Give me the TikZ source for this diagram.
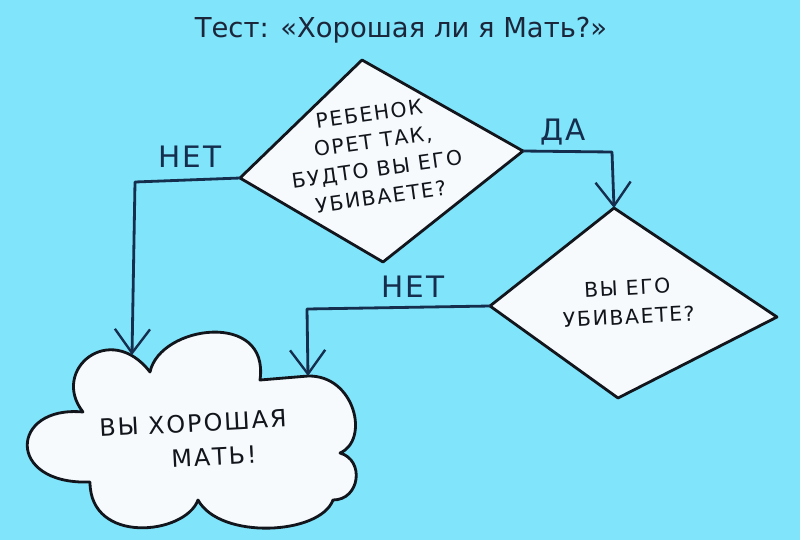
\documentclass[tikz,border=0pt]{standalone}
\usepackage{fontspec}
\setmainfont{DejaVu Sans}
\newfontfamily\handcaps[LetterSpace=8]{DejaVu Sans}
\usetikzlibrary{arrows.meta,positioning,calc}

\definecolor{sky}{RGB}{128,228,250}
\definecolor{ink}{RGB}{22,46,78}
\definecolor{pen}{RGB}{18,22,28}
\definecolor{paper}{RGB}{246,250,252}

\begin{document}
\begin{tikzpicture}[x=0.025cm, y=-0.025cm,
  wire/.style={draw=ink, line width=2pt, line join=round},
  flow/.style={wire, -{Straight Barb[length=17pt,width=25pt,line width=1.7pt]}},
  answer/.style={text=ink, font=\handcaps\fontsize{21}{24}\selectfont, inner sep=0pt},
  ask/.style={draw=pen, fill=paper, line width=2pt, line join=round},
  say/.style={text=pen, align=center, inner sep=0pt}]
\fill[sky] (0,0) rectangle (800,540);

% title
\node[anchor=base, text={rgb,255:red,28;green,38;blue,58}, font=\fontsize{19.5}{23}\selectfont] (title) at (401,37) {Тест: «Хорошая ли я Мать?»};

% first question
\coordinate (q1-n) at (362,60);
\coordinate (q1-e) at (523,151);
\coordinate (q1-s) at (383,262);
\coordinate (q1-w) at (240,178);
\draw[ask] (q1-n) -- (q1-e) -- (q1-s) -- (q1-w) -- cycle;
\node[say, rotate=8, font=\handcaps\fontsize{14.5}{19.8}\selectfont] (q1) at (375,155)
  {РЕБЕНОК\\ОРЕТ ТАК,\\БУДТО ВЫ ЕГО\\УБИВАЕТЕ?};

% second question
\coordinate (q2-n) at (614,208);
\coordinate (q2-e) at (777,317);
\coordinate (q2-s) at (618,398);
\coordinate (q2-w) at (490,306);
\draw[ask] (q2-n) -- (q2-e) -- (q2-s) -- (q2-w) -- cycle;
\node[say, rotate=3, font=\handcaps\fontsize{14.5}{20.6}\selectfont] (q2) at (628,302)
  {ВЫ ЕГО\\УБИВАЕТЕ?};

% the cloud
\coordinate (c-a) at (150,372);
\coordinate (c-b) at (260,380);
\coordinate (c-c) at (308,376);
\coordinate (c-d) at (340,453);
\coordinate (c-e) at (333,500);
\coordinate (c-f) at (198,500);
\coordinate (c-g) at (90,482);
\coordinate (c-h) at (83,412);
\coordinate (c-in) at (132,355);
\draw[ask] (c-h) .. controls (50,370) and (110,320) .. (c-a)
  .. controls (160,325) and (270,310) .. (c-b) -- (c-c)
  .. controls (355,375) and (370,440) .. (c-d)
  .. controls (365,460) and (360,500) .. (c-e)
  .. controls (320,535) and (220,540) .. (c-f)
  .. controls (185,535) and (90,545) .. (c-g)
  .. controls (5,485) and (10,405) .. (c-h) -- cycle;
\node[say, rotate=3, font=\handcaps\fontsize{17}{24}\selectfont] (verdict) at (193,423) {ВЫ ХОРОШАЯ};
\node[say, rotate=3, font=\handcaps\fontsize{17}{24}\selectfont] (verdict-2) at (214,457) {МАТЬ!};

% connectors
\coordinate (no1) at (135,182);
\coordinate (yes) at (612,152);
\coordinate (no2) at (307,309);
\draw[flow] (q1-w) -- (no1) -- (c-in);
\draw[flow] (q1-e) -- (yes) -- (q2-n);
\draw[flow] (q2-w) -- (no2) -- (c-c);
\node[answer] (no1-label) at (190,157) {НЕТ};
\node[answer] (yes-label) at (563,132) {ДА};
\node[answer] (no2-label) at (413,287) {НЕТ};
\end{tikzpicture}
\end{document}
